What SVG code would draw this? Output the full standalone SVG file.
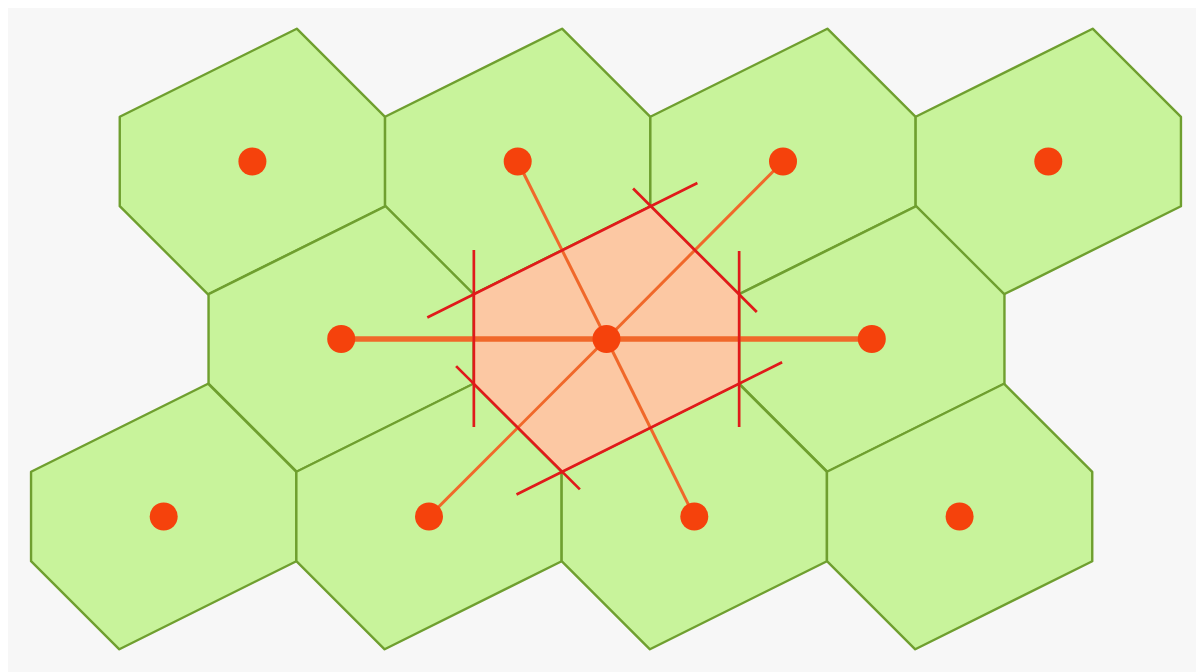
<svg xmlns="http://www.w3.org/2000/svg" xmlns:xlink="http://www.w3.org/1999/xlink" width="1196" height="672" viewBox="0 0 1196 672">
<style>
.cell{fill:#c8f39b;stroke:#6f9f2f;stroke-width:2.4;stroke-linejoin:round}
.center{fill:#fcc8a3;stroke:none}
.edge{stroke:#e01a1a;stroke-width:2.7;fill:none;stroke-linecap:butt}
.conn{stroke:#f0682a;stroke-width:3;fill:none}
.conn.main{stroke-width:5.5}
.dot{fill:#f5420c}
</style>
<defs>
<polygon id="hex" points="132.65,-44.7 132.65,44.7 -44.35,132.8 -132.65,44.7 -132.65,-44.7 44.35,-132.8"/>
</defs>
<rect x="0" y="0" width="1196" height="672" fill="#ffffff"/>
<rect x="8" y="8" width="1188" height="664" fill="#f7f7f7"/>
<g id="cells">
<g id="cell-r1c1"><use xlink:href="#hex" class="cell" x="252.4" y="161.5"/></g>
<g id="cell-r1c2"><use xlink:href="#hex" class="cell" x="517.7" y="161.5"/></g>
<g id="cell-r1c3"><use xlink:href="#hex" class="cell" x="783" y="161.5"/></g>
<g id="cell-r1c4"><use xlink:href="#hex" class="cell" x="1048.3" y="161.5"/></g>
<g id="cell-r2c1"><use xlink:href="#hex" class="cell" x="341.2" y="339"/></g>
<g id="cell-r2c2"><use xlink:href="#hex" class="cell" x="606.5" y="339"/></g>
<g id="cell-r2c3"><use xlink:href="#hex" class="cell" x="871.8" y="339"/></g>
<g id="cell-r3c1"><use xlink:href="#hex" class="cell" x="163.7" y="516.5"/></g>
<g id="cell-r3c2"><use xlink:href="#hex" class="cell" x="429" y="516.5"/></g>
<g id="cell-r3c3"><use xlink:href="#hex" class="cell" x="694.3" y="516.5"/></g>
<g id="cell-r3c4"><use xlink:href="#hex" class="cell" x="959.6" y="516.5"/></g>
</g>
<g id="central-cell">
<use xlink:href="#hex" class="center" x="606.5" y="339"/>
</g>
<g id="connectors">
<line class="conn main" x1="341.2" y1="339" x2="871.8" y2="339"/>
<line class="conn" x1="606.5" y1="339" x2="517.7" y2="161.5"/>
<line class="conn" x1="606.5" y1="339" x2="783" y2="161.5"/>
<line class="conn" x1="606.5" y1="339" x2="429" y2="516.5"/>
<line class="conn" x1="606.5" y1="339" x2="694.3" y2="516.5"/>
</g>
<g id="bisectors">
<line class="edge" x1="473.85" y1="250" x2="473.85" y2="427"/>
<line class="edge" x1="739.15" y1="251" x2="739.15" y2="427"/>
<line class="edge" x1="427.3" y1="317.5" x2="697.4" y2="183"/>
<line class="edge" x1="633.1" y1="188.5" x2="756.8" y2="312"/>
<line class="edge" x1="782.1" y1="362.3" x2="516.5" y2="494.5"/>
<line class="edge" x1="456.1" y1="366.1" x2="579.9" y2="489.4"/>
</g>
<g id="sites">
<circle class="dot" cx="252.4" cy="161.5" r="14"/>
<circle class="dot" cx="517.7" cy="161.5" r="14"/>
<circle class="dot" cx="783" cy="161.5" r="14"/>
<circle class="dot" cx="1048.3" cy="161.5" r="14"/>
<circle class="dot" cx="341.2" cy="339" r="14"/>
<circle class="dot" cx="606.5" cy="339" r="14"/>
<circle class="dot" cx="871.8" cy="339" r="14"/>
<circle class="dot" cx="163.7" cy="516.5" r="14"/>
<circle class="dot" cx="429" cy="516.5" r="14"/>
<circle class="dot" cx="694.3" cy="516.5" r="14"/>
<circle class="dot" cx="959.6" cy="516.5" r="14"/>
</g>
</svg>
